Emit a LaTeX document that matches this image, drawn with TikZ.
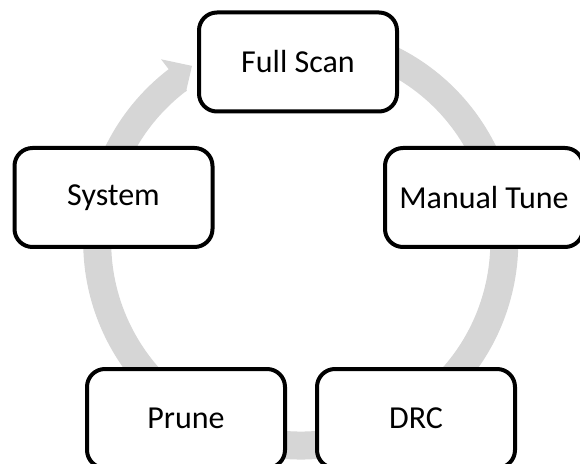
\documentclass[tikz,border=0pt]{standalone}
\usepackage{fontspec}
\setmainfont{Carlito}
\usepackage{xcolor}
\usepackage{tikz}
\usetikzlibrary{calc}
\definecolor{ringgray}{RGB}{214,214,214}
\tikzstyle{cycle box}=[fill=white, draw=black, shape=rectangle, rounded corners=18pt, line width=4pt, minimum width=198pt, minimum height=99pt, font=\fontsize{32}{38}\selectfont]
\tikzstyle{ring edge}=[-, draw=ringgray, line width=28pt]
\tikzstyle{ring head}=[fill=ringgray, draw=none]
\pgfdeclarelayer{nodelayer}
\pgfdeclarelayer{edgelayer}
\pgfsetlayers{edgelayer,main,nodelayer}
\begin{document}
\begin{tikzpicture}[x=1pt, y=1pt]
	\useasboundingbox (0, 0) rectangle (580, 463);
	\begin{pgfonlayer}{nodelayer}
		\node [style=cycle box] (0) at (298, 401) {Full Scan};
		\node [style=cycle box] (1) at (484, 265.5) {Manual Tune};
		\node [style=cycle box] (2) at (416, 44.5) {DRC};
		\node [style=cycle box] (3) at (186, 44.5) {Prune};
		\node [style=cycle box] (4) at (113.5, 265.5) {System};
	\end{pgfonlayer}
	\begin{pgfonlayer}{edgelayer}
		\coordinate (5) at (300.75, 221);
		\draw [style=ring edge] ($(5)+(75:203.5)$) arc [start angle=75, end angle=-233, radius=203.5];
		\fill [style=ring head] ($(5)+(127.4:230)$) -- ($(5)+(121.7:207)$) -- ($(5)+(127.4:189)$) -- cycle;
	\end{pgfonlayer}
\end{tikzpicture}
\end{document}
